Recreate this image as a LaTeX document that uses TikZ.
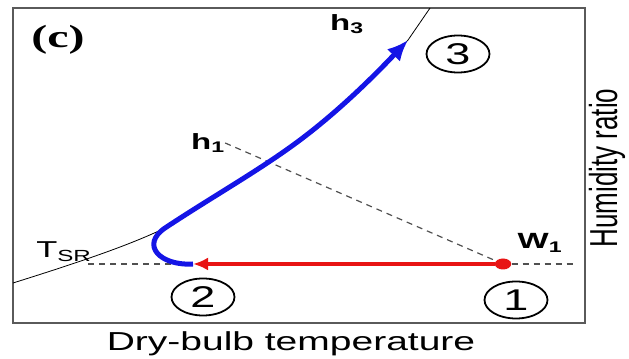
\documentclass[tikz,border=0pt]{standalone}
\usepackage{fontspec}
\setmainfont{Liberation Sans}
\newfontfamily\panelfont{Liberation Serif}
\usepackage{xcolor}
\usepackage{tikz}
\usetikzlibrary{arrows.meta,shapes.geometric}
\definecolor{frame}{HTML}{5A5A5A}
\definecolor{cool} {HTML}{1414E6}
\definecolor{heat} {HTML}{E81414}
\definecolor{guide}{HTML}{505050}
\newcommand{\figsize}[1]{\fontsize{#1}{#1}\selectfont}

\begin{document}
\begin{tikzpicture}[x=0.6667pt,y=-1pt,xscale=1.5,
  every node/.append style={transform shape},
  box/.style={draw=frame,line width=2.5pt},
  sat/.style={color=black,line width=0.8pt},
  guideline/.style={color=guide,line width=1.2pt,dash pattern=on 6pt off 5pt},
  lbl/.style={font=\figsize{22}\bfseries,inner sep=0pt},
  axis/.style={font=\figsize{26},inner sep=0pt},
  state/.style={draw=black,line width=1.8pt,ellipse,minimum width=42pt,
                minimum height=37pt,inner sep=0pt,font=\figsize{30}},
  dot/.style={circle,fill=heat,inner sep=0pt,minimum size=11pt},
  heatline/.style={-{Latex[length=15pt,width=13pt]},color=heat,line width=4pt},
  coolline/.style={-{Latex[length=21pt,width=18pt]},color=cool,line width=5pt}]
  \useasboundingbox (0,0) rectangle (629,359);
  \draw[box] (13,8) rectangle (585,323);
  \node[font=\panelfont\figsize{32}\bfseries,inner sep=0pt] (panel) at (58,40) {(c)};

  % saturation line and the points on it
  \coordinate (satlo) at (13,283);
  \coordinate (knee)  at (165,228);
  \coordinate (mid)   at (300,140);
  \coordinate (s3)    at (408,40);
  \coordinate (sathi) at (430,8);
  \coordinate (p2)    at (193,264);
  \coordinate (tsr)   at (88,264);
  \coordinate (wend)  at (576,264);
  \draw[sat] (satlo) .. controls (80,262) and (130,245) .. (knee)
    .. controls (215,195) and (260,170) .. (mid)
    .. controls (340,110) and (375,75) .. (s3) -- (sathi);

  \node[dot] (p1) at (503,264) {};
  \node[lbl] (h1) at (208,143) {h\textsubscript{1}};
  \node[lbl] (h3) at (347,24) {h\textsubscript{3}};
  \node[lbl] (w1) at (540,243) {W\textsubscript{1}};
  \node[lbl,font=\figsize{23}] (tsrl) at (64,252) {T\textsubscript{SR}};

  \draw[guideline] (h1.east) -- (p1);
  \draw[guideline] (p1) -- (wend);
  \draw[guideline] (tsr) -- (p2);

  \draw[heatline] (p1) -- (p2);
  \draw[coolline] (p2) .. controls (160,266) and (140,245) .. (knee)
    .. controls (215,195) and (260,170) .. (mid)
    .. controls (340,110) and (375,75) .. (s3);

  \node[state] (n1) at (516,300) {1};
  \node[state] (n2) at (203,297) {2};
  \node[state] (n3) at (458,54) {3};

  \node[axis,anchor=base] (xlab) at (291,351) {Dry-bulb temperature};
  \node[axis,rotate=90,anchor=base] (ylab) at (617,168) {Humidity ratio};
\end{tikzpicture}
\end{document}
